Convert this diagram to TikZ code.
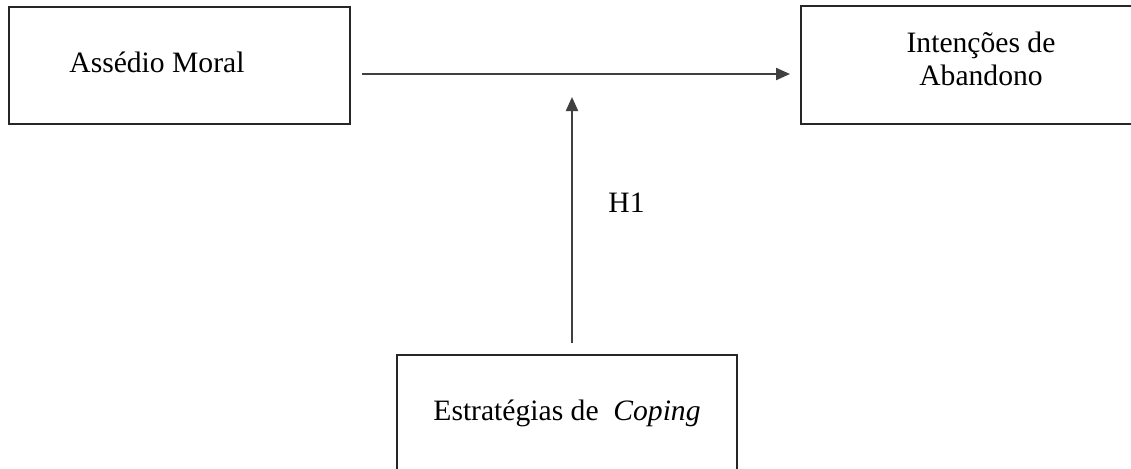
\documentclass[tikz,border=0pt]{standalone}
\usepackage{fontspec}
\setmainfont{Liberation Serif}
\usetikzlibrary{arrows.meta}
\begin{document}
\begin{tikzpicture}[x=0.5pt,y=-0.5pt,
  box/.style={draw=black!85,line width=1pt,inner sep=0pt,fill=none},
  txt/.style={font=\fontsize{14.8}{16.5}\selectfont,inner sep=0pt},
  conn/.style={line width=1.1pt,draw=black!75,-{Triangle[length=7pt,width=6pt]}}]
\useasboundingbox (0,0) rectangle (1131,468);
\clip (0,0) rectangle (1131,468);
\fill[white] (0,0) rectangle (1131,468);
% boxes
\node[box,minimum width=170.5pt,minimum height=58.5pt] (am) at (179.5,65.5) {};
\node[box,minimum width=169.5pt,minimum height=59pt] (ia) at (970.5,65) {};
\node[box,minimum width=170pt,minimum height=62.5pt] (ec) at (567,417.5) {};
% texts
\node[txt,anchor=base west] (amt) at (69,72) {Assédio Moral};
\node[txt,anchor=base] (iat1) at (981,52) {Intenções de};
\node[txt,anchor=base] (iat2) at (981,85) {Abandono};
\node[txt,anchor=base] (ect) at (567,420) {Estratégias de\ \ \textit{Coping}};
\node[txt,anchor=base west] (h1) at (608,212) {H1};
% connector ends
\coordinate (hs) at (362,74);
\coordinate (he) at (790,74);
\coordinate (vs) at (572,343);
\coordinate (vt) at (572,97);
\draw[conn] (hs) -- (he);
\draw[conn] (vs) -- (vt);
\end{tikzpicture}
\end{document}
